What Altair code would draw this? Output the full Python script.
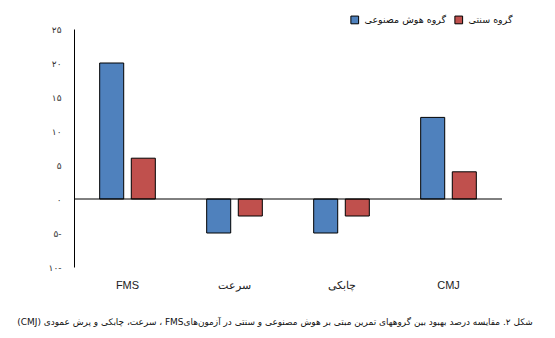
import altair as alt
import pandas as pd

categories = ["FMS", "سرعت", "چابکی", "CMJ"]
groups = ["گروه هوش مصنوعی", "گروه سنتی"]
ai_values = [20, -5, -5, 12]
traditional_values = [6, -2.5, -2.5, 4]
colors = ["#4F81BD", "#C0504D"]
tick_values = [-10, -5, 0, 5, 10, 15, 20, 25]
tick_labels = ["۱۰-", "۵-", "۰", "۵", "۱۰", "۱۵", "۲۰", "۲۵"]
caption = "شکل ۲. مقایسه درصد بهبود بین گروههای تمرین مبتی بر هوش مصنوعی و سنتی در آزمون‌هایFMS ، سرعت، چابکی و پرش عمودی (CMJ)"

rows = []
for i, c in enumerate(categories):
    rows.append({"category": c, "group": groups[0], "value": ai_values[i]})
    rows.append({"category": c, "group": groups[1], "value": traditional_values[i]})
df = pd.DataFrame(rows)

label_expr = ""
for v, l in zip(tick_values, tick_labels):
    label_expr += f"datum.value == {v} ? '{l}' : "
label_expr += "''"

FONT = "DejaVu Sans"

y_scale = alt.Scale(domain=[-10, 25], nice=False, zero=False)
y_axis = alt.Axis(values=tick_values, grid=False, ticks=False, domain=True,
                  domainColor="black", domainWidth=1, labelPadding=13,
                  labelOverlap=False, labelExpr=label_expr, labelFontSize=9,
                  labelColor="#333", labelFont=FONT)

bars = alt.Chart(df).mark_bar(stroke="black", strokeWidth=1).encode(
    x=alt.X("category:N", sort=categories, title=None,
            scale=alt.Scale(paddingInner=0.48, paddingOuter=0.24),
            axis=alt.Axis(domain=False, ticks=False, labelAngle=0, labelPadding=12,
                          labelFontSize=11, labelColor="#222", labelFont="Liberation Sans")),
    xOffset=alt.XOffset("group:N", sort=groups, scale=alt.Scale(paddingInner=0.24, paddingOuter=0)),
    y=alt.Y("value:Q", title=None, scale=y_scale, axis=y_axis),
    color=alt.Color("group:N", sort=groups,
                    scale=alt.Scale(domain=groups, range=colors),
                    legend=alt.Legend(title=None, orient="none", direction="horizontal",
                                      legendX=276, legendY=-14, symbolType="square",
                                      symbolSize=60, symbolStrokeColor="black",
                                      symbolStrokeWidth=1, labelFont=FONT,
                                      labelFontSize=9.5, labelColor="#111",
                                      columnPadding=5, labelOffset=5)),
)

zero = alt.Chart(pd.DataFrame({"value": [0]})).mark_rule(color="black", strokeWidth=1).encode(
    y=alt.Y("value:Q", title=None, scale=y_scale, axis=y_axis)
)

chart = alt.layer(bars, zero).properties(
    width=428,
    height=238,
    background="white",
    autosize=alt.AutoSizeParams(type="none"),
    padding={"left": 74, "top": 29, "right": 53, "bottom": 71},
    title=alt.TitleParams("\u202b" + caption + "\u202c", orient="bottom", anchor="middle",
                          font=FONT, fontSize=8.95, fontWeight="normal", color="#111",
                          offset=28, dx=-13),
).configure_view(stroke=None)

chart.save("out.html", embed_options={"renderer": "svg", "actions": False})
